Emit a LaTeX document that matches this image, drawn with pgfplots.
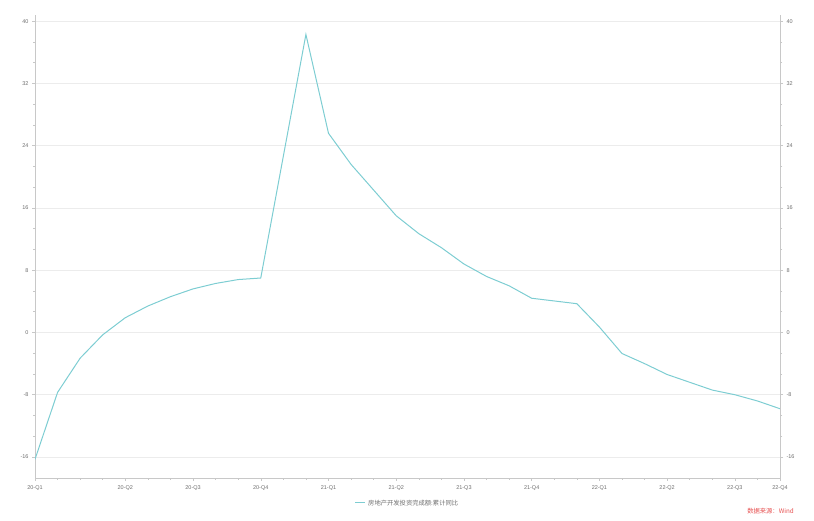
\documentclass[border=0pt]{standalone}
\usepackage{fontspec}
\setmainfont{Liberation Sans}
\newfontfamily\cjk{Noto Sans CJK SC}
\usepackage{pgfplots}
\pgfplotsset{compat=1.18}
\definecolor{lineC}{RGB}{125,205,210}
\definecolor{axC}{RGB}{200,200,200}
\definecolor{gridC}{RGB}{236,236,236}
\definecolor{txtC}{RGB}{110,110,110}
\definecolor{srcC}{RGB}{230,80,80}
\begin{document}
\begin{tikzpicture}[x=1pt,y=1pt]
\path[use as bounding box] (0,0) rectangle (814,521);
\pgfplotsset{
  common/.style={
    at={(35pt,43pt)}, anchor=south west,
    scale only axis, width=745pt, height=463pt,
    xmin=0, xmax=33, ymin=-18.7, ymax=40.8,
    ytick={-16,-8,0,8,16,24,32,40},
    minor y tick num=2,
    tick align=outside,
    major tick length=3pt, minor tick length=2pt,
    tick style={axC, line width=0.5pt},
    ticklabel style={font=\fontsize{5.5}{6}\selectfont, text=txtC},
    /pgf/number format/assume math mode=true,
    axis line style={axC, line width=0.8pt},
  }
}
\begin{axis}[common,
  axis x line*=bottom, axis y line*=left,
  xtick={0,4,7,10,13,16,19,22,25,28,31,33},
  xticklabels={20-Q1,20-Q2,20-Q3,20-Q4,21-Q1,21-Q2,21-Q3,21-Q4,22-Q1,22-Q2,22-Q3,22-Q4},
  minor xtick={1,2,3,5,6,8,9,11,12,14,15,17,18,20,21,23,24,26,27,29,30,32},
  ymajorgrids, major grid style={gridC, line width=0.6pt},
  xticklabel style={yshift=-1pt},
]
\addplot[lineC, line width=1pt] coordinates {
(0,-16.3) (1,-7.7) (2,-3.3) (3,-0.3) (4,1.9) (5,3.4) (6,4.6) (7,5.6) (8,6.3) (9,6.8) (10,7.0)
(12,38.3) (13,25.6) (14,21.6) (15,18.3) (16,15.0) (17,12.7) (18,10.9) (19,8.8) (20,7.2) (21,6.0) (22,4.4)
(24,3.7) (25,0.7) (26,-2.7) (27,-4.0) (28,-5.4) (29,-6.4) (30,-7.4) (31,-8.0) (32,-8.8) (33,-9.8)
};
\end{axis}
\begin{axis}[common,
  axis y line*=right, axis x line=none,
  xtick=\empty,
]
\end{axis}
\draw[lineC, line width=1pt] (355,18) -- (365,18);
\node[anchor=west, inner sep=0pt, text=txtC, font=\cjk\fontsize{6.3}{7}\selectfont] at (368,18) {房地产开发投资完成额:累计同比};
\node[anchor=east, inner sep=0pt, text=srcC, font=\cjk\fontsize{6.3}{7}\selectfont] at (794,10) {数据来源：Wind};
\end{tikzpicture}
\end{document}
